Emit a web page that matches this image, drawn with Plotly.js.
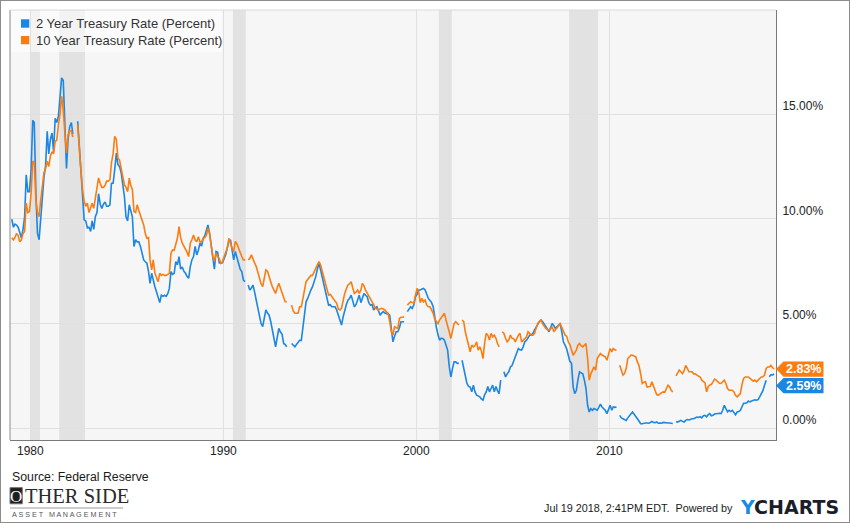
<!DOCTYPE html>
<html><head><meta charset="utf-8">
<script src="https://cdn.plot.ly/plotly-3.0.1.min.js"></script>
<style>
html,body{margin:0;padding:0;background:#fff}
#chart{width:850px;height:523px}
#frame{position:absolute;left:0;top:0;width:850px;height:523px;box-sizing:border-box;border:1px solid #8c8c8c;pointer-events:none}
</style>
</head><body><div id="chart"></div><div id="frame"></div>
<script>
// ---------------- DATA ----------------
const startYear = 1979; // monthly values, Jan 1979 .. Jul 2018 (null = gap in source data)
const seriesNames = ['2 Year Treasury Rate (Percent)', '10 Year Treasury Rate (Percent)'];
const rate2y = [
 9.98,9.6,9.75,9.7,9.6,9.3,9.1,9.5,10.1,12.1,11.3,11.3,
 12.3,14.7,14.6,11.2,9.3,9.0,10.1,11.0,12.0,12.5,14.18,13.1,
 13.8,14.1,13.2,14.8,14.6,14.9,15.85,16.73,16.6,14.4,12.4,13.8,
 14.4,14.6,14.05,null,null,14.66,13.5,12.8,11.2,9.95,9.9,9.57,
 9.6,9.4,9.9,9.5,10.1,10.3,11.2,10.7,10.5,10.7,10.8,10.6,
 10.6,10.67,11.7,11.7,12.34,13.14,12.6,12.5,12.2,11.55,11.07,10.1,
 9.9,10.67,10.4,10.1,8.68,9.0,8.9,8.9,8.68,8.4,8.04,7.95,
 7.88,7.48,6.92,7.4,7.0,6.76,6.52,6.28,6.0,6.36,6.3,6.35,
 6.3,6.44,6.68,7.48,7.35,7.4,7.96,7.8,8.2,7.6,7.7,7.5,
 7.4,7.24,7.16,7.72,8.04,8.2,8.68,8.28,8.5,8.84,8.7,9.07,
 9.2,9.47,9.71,9.3,8.76,8.0,7.6,8.44,8.4,7.9,7.88,7.9,
 8.1,8.3,8.6,8.9,9.0,8.6,8.04,8.44,8.1,7.88,7.6,7.48,
 7.08,7.0,null,6.84,6.6,6.7,6.84,6.5,6.12,5.8,5.4,5.0,
 4.85,5.25,5.65,5.5,5.4,5.1,4.77,4.3,3.89,4.3,4.77,4.6,
 4.5,4.05,4.0,3.89,null,null,4.05,3.95,3.89,4.0,4.1,4.2,
 4.2,4.77,5.4,6.04,6.2,6.44,6.6,6.76,7.0,7.24,7.6,7.88,
 7.56,7.2,6.84,6.6,6.2,5.88,5.9,5.8,5.8,5.8,5.65,5.4,
 5.25,4.93,5.3,5.65,5.9,6.12,6.2,6.36,6.1,5.8,5.9,6.1,
 6.36,6.0,6.2,6.44,6.35,6.28,6.0,5.88,5.9,5.65,5.75,5.8,
 5.6,5.4,5.5,5.57,5.5,5.49,5.45,5.4,4.61,4.13,4.4,4.61,
 4.61,4.8,5.09,5.09,5.09,null,5.57,5.7,5.8,5.73,5.9,6.28,
 6.4,6.6,6.6,6.65,6.68,6.6,6.4,6.2,6.1,6.0,5.8,5.17,
 4.8,4.45,4.21,4.3,4.29,4.21,4.0,3.73,2.93,2.45,2.85,3.17,
 3.17,3.1,3.1,null,3.25,2.85,2.5,2.14,2.0,1.97,1.74,2.06,
 1.74,1.58,1.55,1.5,1.4,1.34,1.6,1.74,2.0,1.74,1.9,2.06,
 1.74,2.0,1.8,1.66,2.3,null,2.7,2.45,2.6,2.7,2.93,3.0,
 3.2,3.41,3.6,3.81,3.75,3.73,3.9,4.13,4.2,4.3,4.45,4.45,
 4.53,4.7,4.85,4.95,5.09,5.17,5.1,5.0,4.85,4.75,4.61,4.8,
 5.0,4.9,4.77,4.85,4.93,5.0,4.6,4.13,3.97,3.8,3.49,3.2,
 3.1,1.98,1.66,1.8,2.3,2.7,2.65,2.6,2.3,1.9,1.1,0.78,
 0.94,0.86,0.94,0.9,0.86,1.0,1.15,1.02,0.95,0.86,0.7,0.9,
 1.1,0.86,1.02,1.0,1.02,null,0.62,0.5,0.46,0.4,0.38,0.5,
 0.62,0.7,0.78,0.65,0.54,0.46,0.35,0.22,0.22,0.25,0.25,0.25,
 0.24,0.28,0.33,0.28,0.27,0.3,0.24,0.25,0.24,0.28,0.26,0.25,
 0.25,0.25,0.24,0.23,null,0.33,0.3,0.34,0.38,0.33,0.3,0.38,
 0.42,0.4,0.44,0.46,0.46,0.5,0.54,0.52,0.56,0.5,0.6,0.62,
 0.55,0.65,0.7,0.6,0.62,0.68,0.7,0.7,0.72,0.7,0.86,1.1,
 0.9,0.78,0.86,0.8,0.86,0.75,0.65,0.78,0.8,0.86,1.05,1.2,
 1.2,1.22,1.3,1.26,1.3,1.34,1.36,1.34,1.37,1.5,1.66,1.8,
 2.06,2.3,null,2.46,2.55,2.55,2.59
];
const rate10y = [
 9.1,9.0,9.1,9.3,9.2,8.9,9.0,9.3,9.4,10.75,10.3,10.35,
 11.2,12.75,12.7,10.9,10.3,10.1,10.9,11.5,12.2,12.4,12.75,12.5,
 13.0,13.2,13.1,13.7,13.75,14.5,15.0,15.85,15.2,14.1,13.15,14.0,
 14.2,14.2,13.9,null,null,14.5,13.3,12.3,11.4,10.83,10.6,10.75,
 10.3,10.5,10.75,10.5,11.0,11.3,11.95,11.7,11.5,11.5,11.6,11.8,
 11.8,11.87,12.67,13.1,13.94,13.8,12.9,12.8,12.4,11.87,11.63,11.5,
 11.3,11.95,11.6,11.4,10.35,10.3,10.67,10.4,10.2,10.0,9.71,9.3,
 9.07,9.1,8.04,7.56,8.04,7.4,7.2,7.0,7.4,7.3,7.35,7.3,
 7.3,7.35,7.4,8.36,8.52,8.5,8.84,9.07,9.63,9.1,8.84,8.7,
 8.6,8.4,8.2,8.84,9.0,9.23,9.0,8.9,9.15,8.9,8.9,9.07,
 9.1,9.23,9.55,9.3,8.76,8.2,7.96,8.36,8.2,8.1,7.88,7.95,
 8.2,8.44,8.6,9.07,8.8,8.6,8.44,8.92,8.8,8.6,8.3,8.2,
 8.04,8.04,null,8.04,8.1,8.28,8.04,7.9,7.72,7.4,7.16,6.9,
 6.76,7.2,7.56,7.5,7.2,7.0,6.76,6.6,6.44,6.7,6.92,6.7,
 6.44,6.2,6.04,6.04,null,null,5.88,5.6,5.49,5.49,5.49,5.8,
 5.8,6.2,6.6,7.0,7.1,7.2,7.3,7.3,7.5,7.64,7.8,7.96,
 7.8,7.5,7.24,6.9,6.6,6.36,6.4,6.3,6.2,6.1,5.97,5.7,
 5.65,5.73,6.1,6.44,6.65,6.84,6.9,7.0,6.7,6.44,6.5,6.6,
 6.44,6.6,6.92,6.8,6.6,6.44,6.3,6.2,6.04,5.9,5.73,5.7,
 5.65,5.7,5.73,5.7,5.65,5.55,5.49,5.1,4.6,4.45,4.85,4.8,
 4.77,5.25,5.3,5.3,5.33,null,5.88,5.97,6.04,6.0,5.97,6.36,
 6.68,6.5,6.0,6.2,6.04,6.12,5.88,5.8,5.8,5.65,5.49,5.2,
 5.09,5.0,5.17,5.3,5.4,5.49,5.17,4.93,4.6,4.29,4.69,5.0,
 5.09,5.0,4.93,null,5.17,5.09,4.61,4.29,3.9,3.65,3.97,3.89,
 3.95,4.13,3.73,3.89,3.7,3.33,4.05,4.53,4.45,4.21,4.53,4.37,
 4.45,4.3,4.05,3.89,null,4.61,4.53,4.3,4.13,4.21,4.45,4.3,
 4.29,4.13,4.3,4.45,4.53,4.13,4.2,4.29,4.37,4.61,4.5,4.45,
 4.45,4.53,4.77,5.0,5.1,5.17,5.0,4.85,4.77,4.72,4.69,4.75,
 4.85,4.61,4.69,4.77,4.9,5.0,4.8,4.69,4.45,4.4,4.13,4.0,
 3.73,3.49,3.6,3.73,3.97,4.05,3.95,3.89,3.97,4.05,3.33,2.3,
 2.6,2.78,2.93,2.78,3.33,3.45,3.57,3.5,3.45,3.41,3.25,3.5,
 3.81,3.65,3.81,3.75,3.73,null,3.01,2.8,2.54,2.61,2.85,3.33,
 3.4,3.5,3.49,3.45,3.41,3.17,3.0,2.61,2.14,2.2,2.22,1.97,
 1.97,2.0,2.22,2.0,1.74,1.6,1.58,1.66,1.7,1.74,1.72,1.9,
 2.06,1.97,1.82,1.74,null,2.5,2.61,2.78,2.7,2.61,2.75,3.0,
 2.86,2.7,2.7,2.7,2.6,2.6,2.54,2.5,2.45,2.3,2.22,2.17,
 1.74,2.0,2.06,2.1,2.22,2.35,2.3,2.2,2.15,2.14,2.22,2.3,
 2.14,1.9,1.82,1.82,1.82,1.74,1.58,1.5,1.6,1.66,2.1,2.38,
 2.45,2.46,2.45,2.38,2.3,2.25,2.3,2.22,2.3,2.38,2.45,2.46,
 2.54,2.86,2.93,2.93,3.0,2.9,2.83
];
const recessionStart = ['1980-01-01','1981-07-01','1990-07-01','2001-03-01','2007-12-01'];
const recessionEnd   = ['1980-07-01','1982-11-01','1991-03-01','2001-11-01','2009-06-01'];
const xTickYears = [1980, 1990, 2000, 2010];
const yTickValues = [0, 5, 10, 15];
const sourceText = 'Source: Federal Reserve';
const stampText = 'Jul 19 2018, 2:41PM EDT.\u00a0\u00a0Powered by';

// ---------------- STYLE / LAYOUT ----------------
const colors = ['#1c86e3', '#fb7d12'];
const FONT = 'Liberation Sans, Arial, Helvetica, sans-serif';
const W = 850, H = 523, M = {l: 10, r: 74, t: 10, b: 83};
const PW = W - M.l - M.r, PH = H - M.t - M.b;
const px2x = px => (px - M.l) / PW;
const py2y = py => (H - M.b - py) / PH;
const yRange = [-0.558, 19.97];
const unitsPerPx = (yRange[1] - yRange[0]) / PH;

const dates = rate2y.map((_, i) => {
  const y = startYear + Math.floor(i / 12), m = i % 12 + 1;
  return y + '-' + String(m).padStart(2, '0') + '-15';
});
const lastVal = arr => { for (let i = arr.length - 1; i >= 0; i--) if (arr[i] != null) return arr[i]; };

const traces = [rate2y, rate10y].map((vals, k) => ({
  type: 'scatter', mode: 'lines', x: dates, y: vals, name: seriesNames[k],
  connectgaps: false, showlegend: false, hoverinfo: 'skip',
  line: {color: colors[k], width: 1.6}
}));

const shapes = [];
recessionStart.forEach((s, i) => shapes.push({
  type: 'rect', xref: 'x', yref: 'paper', x0: s, x1: recessionEnd[i], y0: 0, y1: 1,
  fillcolor: '#e2e2e2', line: {width: 0}, layer: 'below'
}));
// plot frame (left / top)
shapes.push({type: 'line', xref: 'paper', yref: 'paper', x0: 0, x1: 0, y0: 0, y1: 1, line: {color: '#8a8a8a', width: 1}});
shapes.push({type: 'line', xref: 'paper', yref: 'paper', x0: 0, x1: 1, y0: 1, y1: 1, line: {color: '#dadada', width: 1}});
// legend box + swatches
shapes.push({type: 'rect', xref: 'paper', yref: 'paper', x0: px2x(10.5), x1: px2x(222), y0: py2y(52), y1: py2y(10.5),
  fillcolor: 'rgba(255,255,255,0.6)', line: {width: 0}, layer: 'between'});
[[19.3, 27.7], [36, 44.3]].forEach((r, k) => shapes.push({type: 'rect', xref: 'paper', yref: 'paper',
  x0: px2x(21), x1: px2x(29.3), y0: py2y(r[1]), y1: py2y(r[0]), fillcolor: colors[k], line: {width: 0}}));

// end-value tags
const v10 = lastVal(rate10y), v2 = lastVal(rate2y);
const tagH = 7.6 * unitsPerPx;
const tagCenters = [v10 - 16.6 * unitsPerPx, v10];
const tagPath = c => {
  const xt = px2x(776), xb = px2x(783.5), xr = px2x(823.5);
  return `M ${xt},${c} L ${xb},${c + tagH} L ${xr},${c + tagH} L ${xr},${c - tagH} L ${xb},${c - tagH} Z`;
};
tagCenters.forEach((c, k) => shapes.push({type: 'path', xref: 'paper', yref: 'y', path: tagPath(c),
  fillcolor: colors[k], line: {width: 0}, layer: 'above'}));

// logo shapes
shapes.push({type: 'rect', xref: 'paper', yref: 'paper', x0: px2x(10), x1: px2x(22.3), y0: py2y(503.8), y1: py2y(487.6),
  fillcolor: '#1e1e1e', line: {color: '#777', width: 1}});
shapes.push({type: 'line', xref: 'paper', yref: 'paper', x0: px2x(10), x1: px2x(123), y0: py2y(508), y1: py2y(508),
  line: {color: '#9a9a9a', width: 1}});

const annotations = [];
seriesNames.forEach((n, k) => annotations.push({xref: 'paper', yref: 'paper', x: px2x(33.5), y: py2y(k ? 40.2 : 23.6),
  xanchor: 'left', yanchor: 'middle', showarrow: false, text: n, font: {family: FONT, size: 13, color: '#333'}}));
[v2, v10].forEach((v, k) => annotations.push({xref: 'paper', yref: 'y', x: px2x(803.5), y: tagCenters[k],
  xanchor: 'center', yanchor: 'middle', showarrow: false, text: '<b>' + v.toFixed(2) + '%</b>',
  font: {family: FONT, size: 12.5, color: '#fff'}}));
annotations.push({xref: 'paper', yref: 'paper', x: px2x(10), y: py2y(477.5), xanchor: 'left', yanchor: 'middle',
  showarrow: false, text: sourceText, font: {family: FONT, size: 12.3, color: '#1a1a1a'}});
annotations.push({xref: 'paper', yref: 'paper', x: px2x(16.2), y: py2y(496), xanchor: 'center', yanchor: 'middle',
  showarrow: false, text: 'O', font: {family: 'Liberation Serif, serif', size: 17, color: '#f2f2f2'}});
annotations.push({xref: 'paper', yref: 'paper', x: px2x(22.5), y: py2y(496), xanchor: 'left', yanchor: 'middle',
  showarrow: false, text: 'THER SIDE', font: {family: 'Liberation Serif, serif', size: 20.5, color: '#2a2a2a'}});
annotations.push({xref: 'paper', yref: 'paper', x: px2x(10), y: py2y(514.5), xanchor: 'left', yanchor: 'middle',
  showarrow: false, text: 'A S S E T \u00a0 M A N A G E M E N T', font: {family: FONT, size: 7.2, color: '#555'}});
annotations.push({xref: 'paper', yref: 'paper', x: px2x(735), y: py2y(507.5), xanchor: 'right', yanchor: 'middle',
  showarrow: false, text: stampText, font: {family: FONT, size: 10.8, color: '#1a1a1a'}});
annotations.push({xref: 'paper', yref: 'paper', x: px2x(737.5), y: py2y(506.5), xanchor: 'left', yanchor: 'middle',
  showarrow: false, text: '<b><span style="color:#1a8ae6">Y</span>CHARTS</b>',
  font: {family: 'DejaVu Sans, sans-serif', size: 19, color: '#1b1d2b'}});

const layout = {
  width: W, height: H, margin: M,
  paper_bgcolor: '#ffffff', plot_bgcolor: '#f6f6f6',
  showlegend: false, hovermode: false,
  font: {family: FONT, size: 12, color: '#333'},
  xaxis: {
    type: 'date', range: ['1978-12-12', '2018-08-20'],
    tickvals: xTickYears.map(y => y + '-01-01'), ticktext: xTickYears.map(String),
    showgrid: true, gridcolor: '#e0e0e0', gridwidth: 1, zeroline: false,
    showline: true, linecolor: '#7a7a7a', linewidth: 1, ticks: '',
    tickfont: {family: FONT, size: 12, color: '#222'}
  },
  yaxis: {
    side: 'right', range: yRange, tickmode: 'array', tickvals: yTickValues,
    ticktext: yTickValues.map(v => v.toFixed(2) + '%'),
    showgrid: true, gridcolor: '#e0e0e0', gridwidth: 1, zeroline: false,
    showline: true, linecolor: '#7a7a7a', linewidth: 1, ticks: '',
    ticklabelposition: 'outside top', ticklabelstandoff: 3,
    tickfont: {family: FONT, size: 12, color: '#222'}
  },
  shapes: shapes, annotations: annotations
};
Plotly.newPlot('chart', traces, layout, {staticPlot: true, displayModeBar: false});
</script>
</body></html>
